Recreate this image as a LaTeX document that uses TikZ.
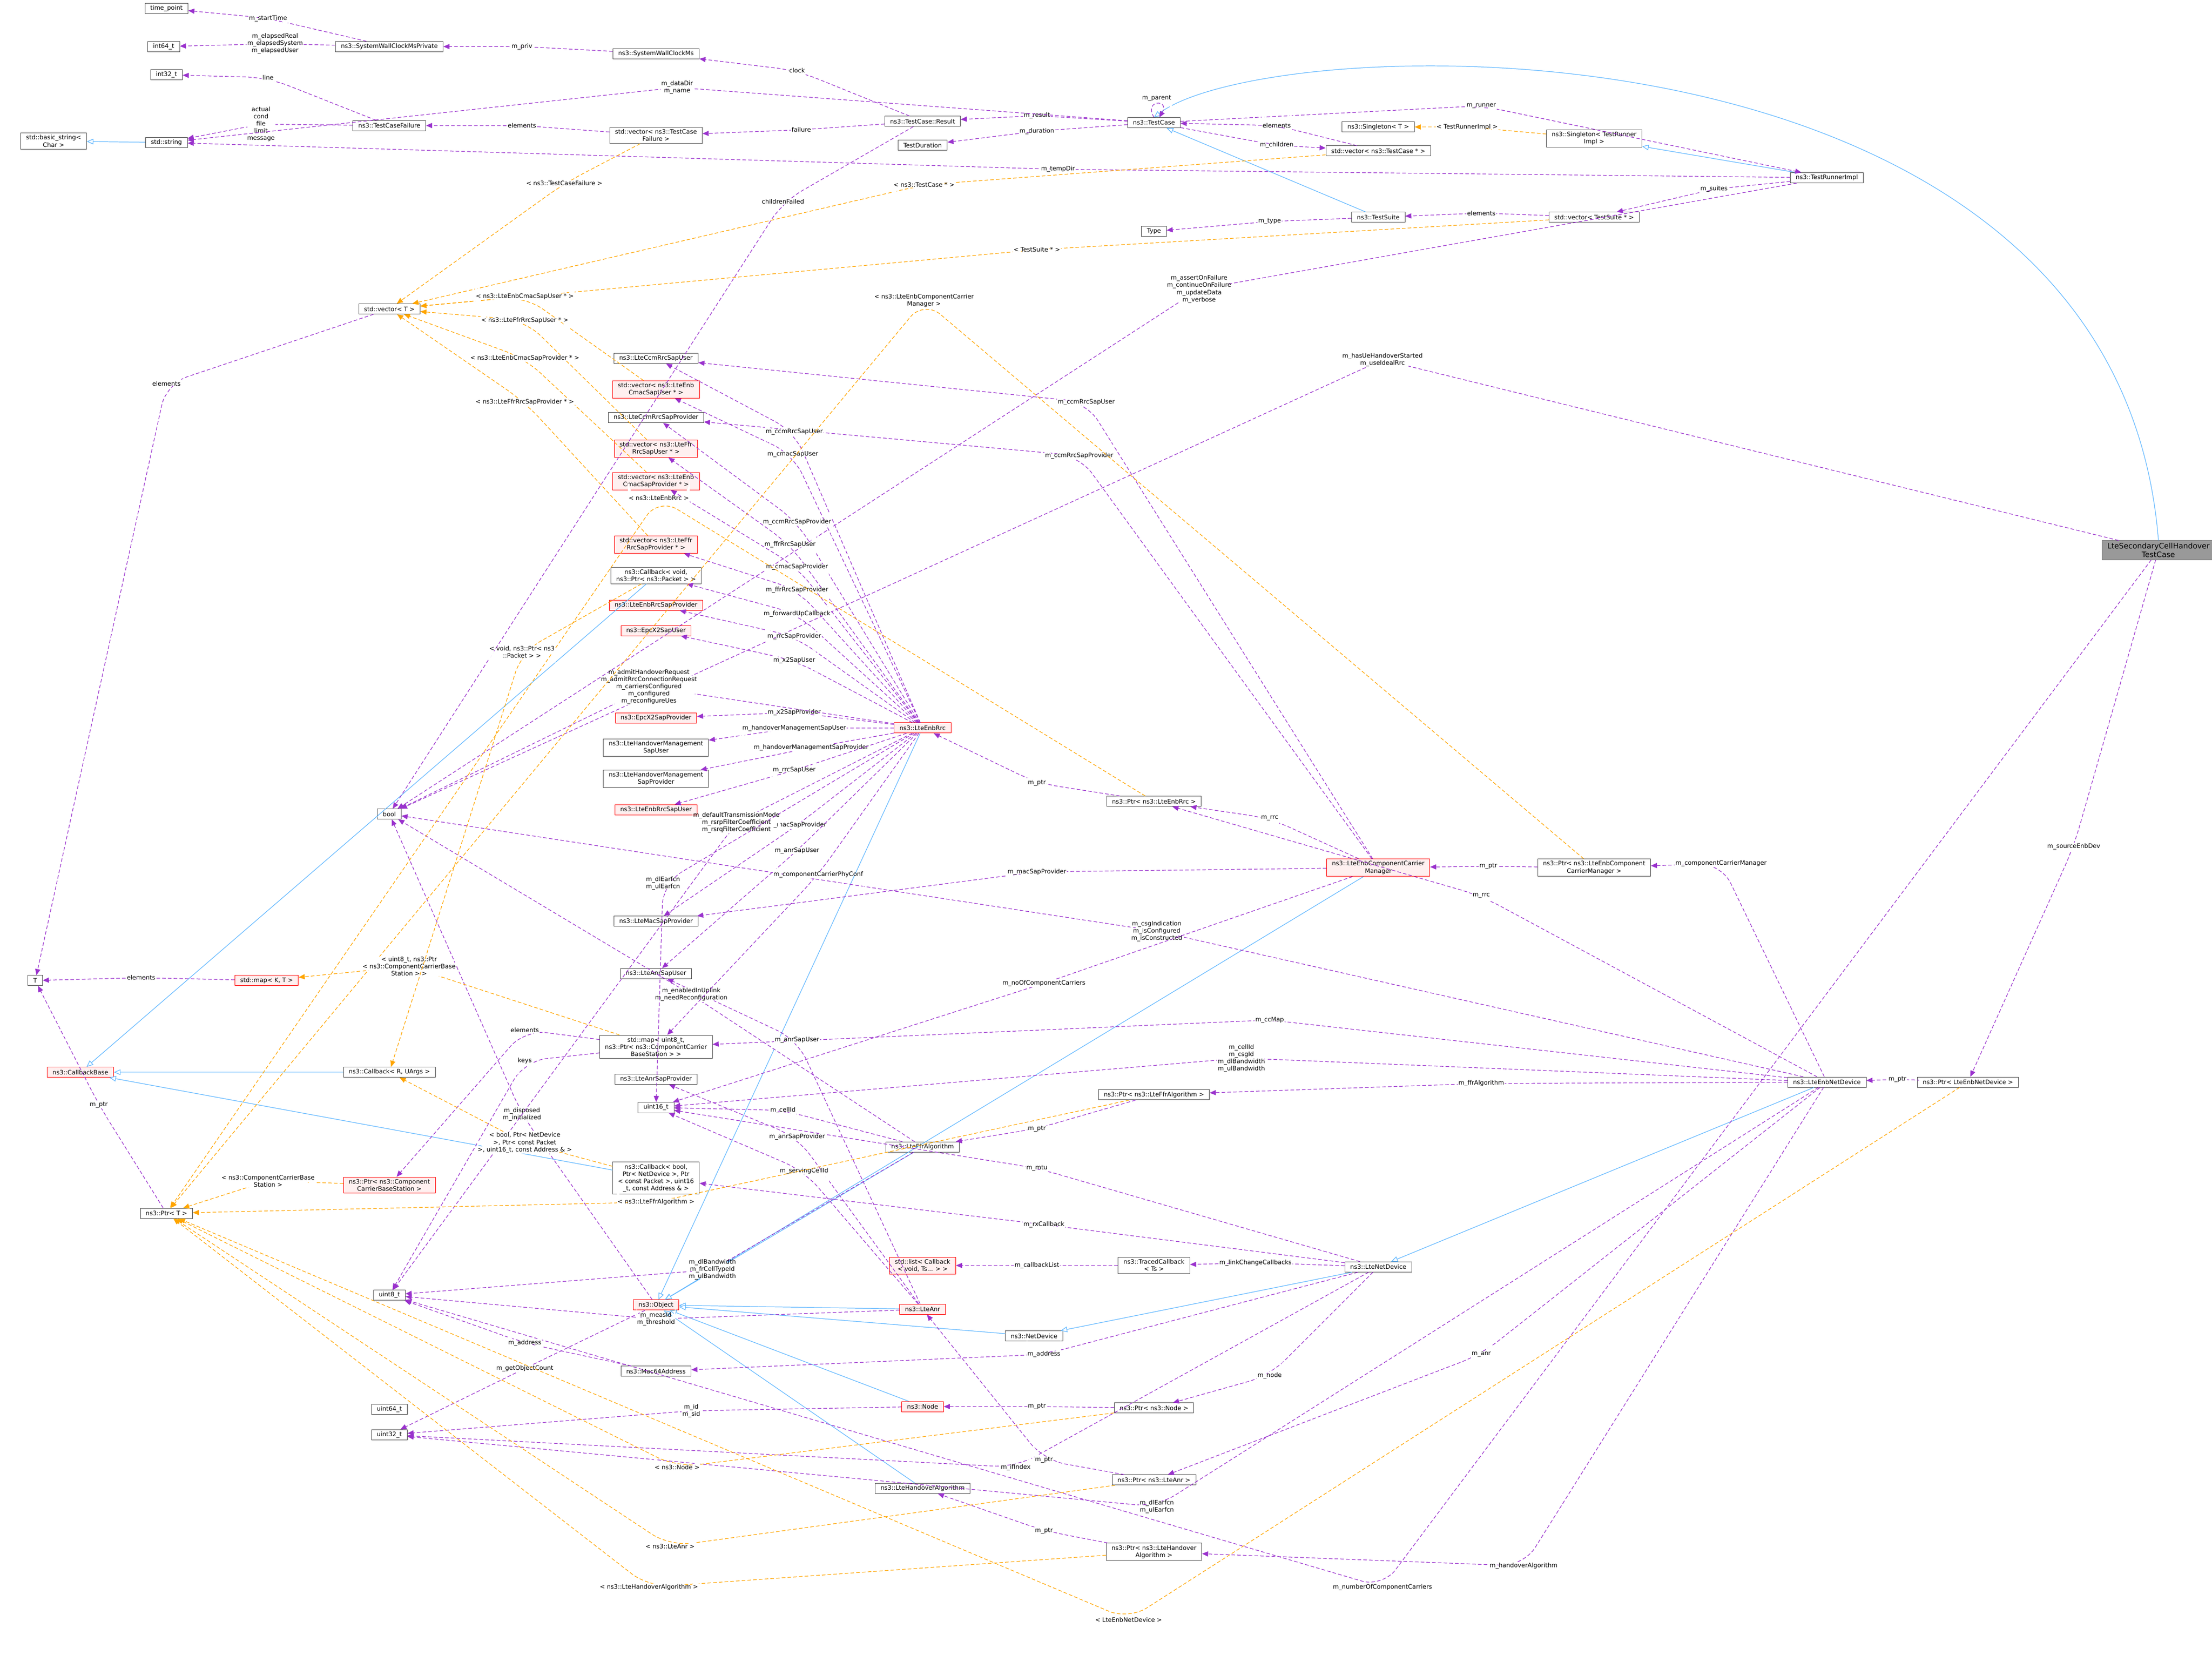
\documentclass[tikz,border=0pt]{standalone}
\usepackage{fontspec}
\setmainfont{DejaVu Sans}
\usetikzlibrary{arrows.meta}
\definecolor{usecolor}{HTML}{9A32CD}
\definecolor{tmplcolor}{HTML}{FFA500}
\definecolor{inhcolor}{HTML}{63B8FF}
\tikzset{
  box/.style={draw=black!70,fill=white,line width=0.25pt,inner xsep=3pt,inner ysep=1.2pt,
    minimum height=0.2cm,align=center,font=\fontsize{3.4}{4}\selectfont},
  redbox/.style={box,draw=red,fill=red!6},
  graybox/.style={box,draw=black!60,fill=black!40,font=\fontsize{4.2}{5}\selectfont},
  use/.style={draw=usecolor,dashed,line width=0.35pt,dash pattern=on 2pt off 1.2pt,rounded corners=12pt,
    -{Triangle[length=1.2mm,width=1mm]}},
  tmpl/.style={use,draw=tmplcolor},
  inh/.style={draw=inhcolor,line width=0.35pt,-{Triangle[open,length=1.3mm,width=1.1mm,fill=white]}},
  lbl/.style={font=\fontsize{3.4}{4}\selectfont,align=center,inner sep=0.4pt,fill=white}
}
\begin{document}
\begin{tikzpicture}[x=0.02765cm,y=-0.02765cm]
\useasboundingbox (0,0) rectangle (1568,1173);
% Nodes, left column
\node[box] (timept) at (118,6) {time\_point};
\node[box] (ilong) at (116,33) {int64\_t};
\node[box] (iint) at (118,53) {int32\_t};
\node[box] (bstr) at (38,100) {std::basic\_string\textless{} \\ Char \textgreater};
\node[box] (str) at (118,101) {std::string};
\node[box] (T) at (25,695) {T};
\node[redbox] (cbbase) at (57,760) {ns3::CallbackBase};
\node[box] (ptrT) at (118,860) {ns3::Ptr\textless{} T \textgreater};
% second column
\node[box] (swcmp) at (276,33) {ns3::SystemWallClockMsPrivate};
\node[box] (tcf) at (276,89) {ns3::TestCaseFailure};
\node[box] (vecT) at (276,219) {std::vector\textless{} T \textgreater};
\node[box] (bool) at (276,577) {bool};
\node[redbox] (mapKT) at (189,695) {std::map\textless{} K, T \textgreater};
\node[box] (cbRU) at (276,760) {ns3::Callback\textless{} R, UArgs \textgreater};
\node[redbox] (ptrCCBS) at (276,840) {ns3::Ptr\textless{} ns3::Component \\ CarrierBaseStation \textgreater};
\node[box] (uchar) at (276,918) {uint8\_t};
\node[box] (ulong) at (276,999) {uint64\_t};
\node[box] (uint) at (276,1017) {uint32\_t};
% third column
\node[box] (swcm) at (465,38) {ns3::SystemWallClockMs};
\node[box] (vecTCF) at (465,96) {std::vector\textless{} ns3::TestCase \\ Failure \textgreater};
\node[box] (ccmuser) at (465,254) {ns3::LteCcmRrcSapUser};
\node[redbox] (vecCmacU) at (465,276) {std::vector\textless{} ns3::LteEnb \\ CmacSapUser * \textgreater};
\node[box] (ccmprov) at (465,296) {ns3::LteCcmRrcSapProvider};
\node[redbox] (vecFfrU) at (465,318) {std::vector\textless{} ns3::LteFfr \\ RrcSapUser * \textgreater};
\node[redbox] (vecCmacP) at (465,341) {std::vector\textless{} ns3::LteEnb \\ CmacSapProvider * \textgreater};
\node[redbox] (vecFfrP) at (465,386) {std::vector\textless{} ns3::LteFfr \\ RrcSapProvider * \textgreater};
\node[box] (cbvoid) at (465,408) {ns3::Callback\textless{} void, \\ ns3::Ptr\textless{} ns3::Packet \textgreater{} \textgreater};
\node[redbox] (rrcprov) at (465,429) {ns3::LteEnbRrcSapProvider};
\node[redbox] (x2user) at (465,447) {ns3::EpcX2SapUser};
\node[redbox] (x2prov) at (465,509) {ns3::EpcX2SapProvider};
\node[box] (homuser) at (465,530) {ns3::LteHandoverManagement \\ SapUser};
\node[box] (homprov) at (465,552) {ns3::LteHandoverManagement \\ SapProvider};
\node[redbox] (rrcuser) at (465,574) {ns3::LteEnbRrcSapUser};
\node[box] (macprov) at (465,653) {ns3::LteMacSapProvider};
\node[box] (anruser) at (465,690) {ns3::LteAnrSapUser};
\node[box] (ccmap) at (465,742) {std::map\textless{} uint8\_t, \\ ns3::Ptr\textless{} ns3::ComponentCarrier \\ BaseStation \textgreater{} \textgreater};
\node[box] (anrprov) at (465,765) {ns3::LteAnrSapProvider};
\node[box] (ushort) at (465,785) {uint16\_t};
\node[box] (cbbool) at (465,835) {ns3::Callback\textless{} bool, \\ Ptr\textless{} NetDevice \textgreater, Ptr \\ \textless{} const Packet \textgreater, uint16 \\ \_t, const Address \& \textgreater};
\node[redbox] (object) at (465,925) {ns3::Object};
\node[box] (mac64) at (465,972) {ns3::Mac64Address};
% fourth column
\node[box] (result) at (654,86) {ns3::TestCase::Result};
\node[box] (tdur) at (654,103) {TestDuration};
\node[redbox] (rrc) at (654,516) {ns3::LteEnbRrc};
\node[box] (ffr) at (654,813) {ns3::LteFfrAlgorithm};
\node[redbox] (cblist) at (654,897) {std::list\textless{} Callback \\ \textless{} void, Ts... \textgreater{} \textgreater};
\node[redbox] (anr) at (654,928) {ns3::LteAnr};
\node[box] (netdev) at (733,947) {ns3::NetDevice};
\node[redbox] (nodeN) at (654,997) {ns3::Node};
\node[box] (hoalg) at (654,1055) {ns3::LteHandoverAlgorithm};
% fifth column
\node[box] (tc) at (818,87) {ns3::TestCase};
\node[box] (type) at (818,164) {Type};
\node[box] (ptrRrc) at (818,568) {ns3::Ptr\textless{} ns3::LteEnbRrc \textgreater};
\node[box] (ptrFfr) at (818,776) {ns3::Ptr\textless{} ns3::LteFfrAlgorithm \textgreater};
\node[box] (traced) at (818,897) {ns3::TracedCallback \\ \textless{} Ts \textgreater};
\node[box] (ptrNode) at (818,998) {ns3::Ptr\textless{} ns3::Node \textgreater};
\node[box] (ptrAnr) at (818,1049) {ns3::Ptr\textless{} ns3::LteAnr \textgreater};
\node[box] (ptrHO) at (818,1100) {ns3::Ptr\textless{} ns3::LteHandover \\ Algorithm \textgreater};
% sixth column
\node[box] (singT) at (977,90) {ns3::Singleton\textless{} T \textgreater};
\node[box] (vecTCp) at (977,107) {std::vector\textless{} ns3::TestCase * \textgreater};
\node[box] (suite) at (977,154) {ns3::TestSuite};
\node[redbox] (ccm) at (977,615) {ns3::LteEnbComponentCarrier \\ Manager};
\node[box] (ltend) at (977,898) {ns3::LteNetDevice};
% right columns
\node[box] (singTRI) at (1130,98) {ns3::Singleton\textless{} TestRunner \\ Impl \textgreater};
\node[box] (vecTS) at (1130,154) {std::vector\textless{} TestSuite * \textgreater};
\node[box] (ptrCCM) at (1130,615) {ns3::Ptr\textless{} ns3::LteEnbComponent \\ CarrierManager \textgreater};
\node[box] (tri) at (1295,126) {ns3::TestRunnerImpl};
\node[box] (enbdev) at (1295,767) {ns3::LteEnbNetDevice};
\node[box] (ptrEnb) at (1395,767) {ns3::Ptr\textless{} LteEnbNetDevice \textgreater};
\node[graybox] (test) at (1530,390) {LteSecondaryCellHandover \\ TestCase};
% Inheritance
\foreach \a/\b in {str/bstr,tri/singTRI,suite/tc,cbRU/cbbase,cbvoid/cbbase,cbbool/cbbase,
  rrc/object,ccm/object,ffr/object,anr/object,nodeN/object,hoalg/object,netdev/object,
  enbdev/ltend,ltend/netdev}
  \draw[inh] (\a) -- (\b);
\draw[inh] (test.north) .. controls (1500,0) and (900,20) .. (tc.north);
% Members
\foreach \a/\b/\x/\y/\t in {
  swcmp/timept/190/13/{m\_startTime},
  swcmp/ilong/195/31/{m\_elapsedReal\\m\_elapsedSystem\\m\_elapsedUser},
  swcm/swcmp/370/33/{m\_priv},
  tcf/iint/190/55/{line},
  tcf/str/185/88/{actual\\cond\\file\\limit\\message},
  vecTCF/tcf/370/89/{elements},
  result/vecTCF/568/92/{failure},
  result/swcm/565/50/{clock},
  result/bool/555/143/{childrenFailed},
  tc/result/735/82/{m\_result},
  tc/tdur/735/93/{m\_duration},
  tc/str/480/62/{m\_dataDir\\m\_name},
  tc/tri/1050/75/{m\_runner},
  vecTCp/tc/905/89/{elements},
  tc/vecTCp/905/103/{m\_children},
  tri/str/750/120/{m\_tempDir},
  tri/vecTS/1215/134/{m\_suites},
  tri/bool/850/205/{m\_assertOnFailure\\m\_continueOnFailure\\m\_updateData\\m\_verbose},
  vecTS/suite/1050/151/{elements},
  suite/type/900/157/{m\_type},
  test/bool/980/255/{m\_hasUeHandoverStarted\\m\_useIdealRrc},
  test/ptrEnb/1470/600/{m\_sourceEnbDev},
  test/uchar/980/1125/{m\_numberOfComponentCarriers},
  ptrEnb/enbdev/1345/765/{m\_ptr},
  enbdev/ptrCCM/1220/612/{m\_componentCarrierManager},
  enbdev/ptrRrc/1050/635/{m\_rrc},
  enbdev/bool/820/660/{m\_csgIndication\\m\_isConfigured\\m\_isConstructed},
  enbdev/ccmap/900/723/{m\_ccMap},
  enbdev/ushort/880/750/{m\_cellId\\m\_csgId\\m\_dlBandwidth\\m\_ulBandwidth},
  enbdev/ptrFfr/1050/768/{m\_ffrAlgorithm},
  enbdev/ptrAnr/1050/960/{m\_anr},
  enbdev/ptrHO/1080/1110/{m\_handoverAlgorithm},
  enbdev/uint/820/1068/{m\_dlEarfcn\\m\_ulEarfcn},
  ltend/traced/890/895/{m\_linkChangeCallbacks},
  ltend/cbbool/740/868/{m\_rxCallback},
  ltend/ushort/735/828/{m\_mtu},
  ltend/ptrNode/900/975/{m\_node},
  ltend/mac64/740/960/{m\_address},
  ltend/uint/720/1040/{m\_ifIndex},
  traced/cblist/735/897/{m\_callbackList},
  ptrNode/nodeN/735/997/{m\_ptr},
  nodeN/uint/490/1000/{m\_id\\m\_sid},
  mac64/uchar/372/952/{m\_address},
  object/uint/372/970/{m\_getObjectCount},
  object/bool/370/790/{m\_disposed\\m\_initialized},
  anr/anruser/565/737/{m\_anrSapUser},
  anr/anrprov/565/806/{m\_anrSapProvider},
  anr/uchar/465/935/{m\_measId\\m\_threshold},
  anr/ushort/570/830/{m\_servingCellId},
  ptrAnr/anr/740/1035/{m\_ptr},
  ptrHO/hoalg/740/1085/{m\_ptr},
  ffr/ushort/555/787/{m\_cellId},
  ffr/bool/490/705/{m\_enabledInUplink\\m\_needReconfiguration},
  ffr/uchar/505/900/{m\_dlBandwidth\\m\_frCellTypeId\\m\_ulBandwidth},
  ptrFfr/ffr/735/800/{m\_ptr},
  ptrRrc/rrc/735/555/{m\_ptr},
  ccm/ptrRrc/900/580/{m\_rrc},
  ptrCCM/ccm/1055/614/{m\_ptr},
  ccm/ccmuser/770/285/{m\_ccmRrcSapUser},
  ccm/ccmprov/765/323/{m\_ccmRrcSapProvider},
  ccm/macprov/735/618/{m\_macSapProvider},
  ccm/ushort/740/697/{m\_noOfComponentCarriers},
  ccmap/ptrCCBS/372/730/{elements},
  ccmap/uchar/372/752/{keys},
  mapKT/T/100/693/{elements},
  vecT/T/118/272/{elements},
  ptrT/T/70/783/{m\_ptr},
  rrc/ccmuser/563/306/{m\_ccmRrcSapUser},
  rrc/vecCmacU/562/322/{m\_cmacSapUser},
  rrc/ccmprov/565/370/{m\_ccmRrcSapProvider},
  rrc/vecFfrU/560/386/{m\_ffrRrcSapUser},
  rrc/vecCmacP/565/402/{m\_cmacSapProvider},
  rrc/vecFfrP/565/418/{m\_ffrRrcSapProvider},
  rrc/cbvoid/565/435/{m\_forwardUpCallback},
  rrc/rrcprov/563/451/{m\_rrcSapProvider},
  rrc/x2user/563/468/{m\_x2SapUser},
  rrc/x2prov/563/505/{m\_x2SapProvider},
  rrc/homuser/563/516/{m\_handoverManagementSapUser},
  rrc/homprov/575/530/{m\_handoverManagementSapProvider},
  rrc/rrcuser/563/546/{m\_rrcSapUser},
  rrc/macprov/565/585/{m\_macSapProvider},
  rrc/anruser/565/603/{m\_anrSapUser},
  rrc/ccmap/580/620/{m\_componentCarrierPhyConf},
  rrc/bool/460/487/{m\_admitHandoverRequest\\m\_admitRrcConnectionRequest\\m\_carriersConfigured\\m\_configured\\m\_reconfigureUes},
  rrc/uchar/522/583/{m\_defaultTransmissionMode\\m\_rsrpFilterCoefficient\\m\_rsrqFilterCoefficient},
  rrc/ushort/470/626/{m\_dlEarfcn\\m\_ulEarfcn}}
  \draw[use] (\a) -- (\x,\y) -- (\b) node[lbl,at={(\x,\y)}] {\t};
\draw[use] (tc.north) to[out=120,in=60,looseness=10] node[lbl,above=1pt] {m\_parent} ([xshift=3pt]tc.north);
% Template instances
\foreach \a/\b/\x/\y/\t in {
  vecTCp/vecT/655/131/{\textless{} ns3::TestCase * \textgreater},
  vecTCF/vecT/400/130/{\textless{} ns3::TestCaseFailure \textgreater},
  singTRI/singT/1040/90/{\textless{} TestRunnerImpl \textgreater},
  vecTS/vecT/735/177/{\textless{} TestSuite * \textgreater},
  vecCmacU/vecT/372/210/{\textless{} ns3::LteEnbCmacSapUser * \textgreater},
  vecFfrU/vecT/372/227/{\textless{} ns3::LteFfrRrcSapUser * \textgreater},
  vecCmacP/vecT/372/254/{\textless{} ns3::LteEnbCmacSapProvider * \textgreater},
  vecFfrP/vecT/372/285/{\textless{} ns3::LteFfrRrcSapProvider * \textgreater},
  ptrEnb/ptrT/800/1148/{\textless{} LteEnbNetDevice \textgreater},
  ptrNode/ptrT/480/1040/{\textless{} ns3::Node \textgreater},
  ptrAnr/ptrT/475/1096/{\textless{} ns3::LteAnr \textgreater},
  ptrHO/ptrT/460/1125/{\textless{} ns3::LteHandoverAlgorithm \textgreater},
  ptrFfr/ptrT/465/852/{\textless{} ns3::LteFfrAlgorithm \textgreater},
  ptrRrc/ptrT/467/353/{\textless{} ns3::LteEnbRrc \textgreater},
  ptrCCM/ptrT/655/213/{\textless{} ns3::LteEnbComponentCarrier\\Manager \textgreater},
  ccmap/mapKT/290/685/{\textless{} uint8\_t, ns3::Ptr\\\textless{} ns3::ComponentCarrierBase\\Station \textgreater{} \textgreater},
  ptrCCBS/ptrT/190/837/{\textless{} ns3::ComponentCarrierBase\\Station \textgreater},
  cbvoid/cbRU/370/462/{\textless{} void, ns3::Ptr\textless{} ns3\\::Packet \textgreater{} \textgreater},
  cbbool/cbRU/372/810/{\textless{} bool, Ptr\textless{} NetDevice\\\textgreater, Ptr\textless{} const Packet\\\textgreater, uint16\_t, const Address \& \textgreater}}
  \draw[tmpl] (\a) -- (\x,\y) -- (\b) node[lbl,at={(\x,\y)}] {\t};
\end{tikzpicture}
\end{document}
